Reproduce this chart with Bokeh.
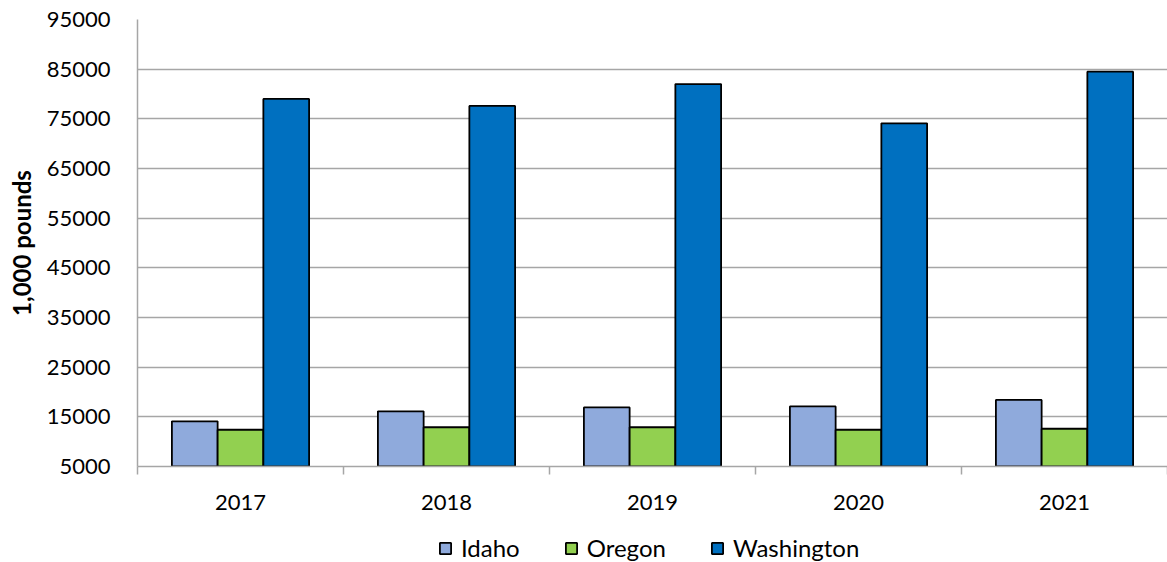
import numpy as np
from bokeh.plotting import figure
from bokeh.layouts import column
from bokeh.models import Range1d, FixedTicker, Legend, LegendItem, ColumnDataSource
from bokeh.embed import file_html
from bokeh.resources import INLINE

years = ["2017", "2018", "2019", "2020", "2021"]
idaho = [14100, 16100, 16900, 17100, 18400]
oregon = [12400, 12900, 12900, 12400, 12600]
washington = [79000, 77600, 82000, 74100, 84500]
y_ticks = [5000, 15000, 25000, 35000, 45000, 55000, 65000, 75000, 85000, 95000]

series_names = ["Idaho", "Oregon", "Washington"]
series_values = [idaho, oregon, washington]
series_colors = ["#8FAADC", "#92D050", "#0070C0"]

FONT = "Lato"
GRID = "#A6A6A6"

p = figure(width=1167, height=522, output_backend="svg", toolbar_location=None,
           x_range=Range1d(0, len(years)), y_range=Range1d(y_ticks[0], y_ticks[-1]),
           min_border_left=137, min_border_right=0, min_border_top=19, min_border_bottom=56)
p.outline_line_color = None
p.background_fill_color = "white"
p.border_fill_color = "white"

bar_w = 0.222
offsets = [-bar_w, 0.0, bar_w]
centers = np.arange(len(years)) + 0.5

for name, vals, col, off in zip(series_names, series_values, series_colors, offsets):
    src = ColumnDataSource(dict(x=centers + off, top=vals))
    p.vbar(x="x", top="top", bottom=y_ticks[0], width=bar_w, source=src,
           fill_color=col, line_color="black", line_width=1.8)

# y axis
p.yaxis.ticker = FixedTicker(ticks=y_ticks)
p.yaxis.major_tick_line_color = None
p.yaxis.minor_tick_line_color = None
p.yaxis.axis_line_color = GRID
p.yaxis.axis_line_width = 1.5
p.yaxis.major_label_text_font = FONT
p.yaxis.major_label_text_font_size = "22px"
p.yaxis.major_label_text_color = "black"
p.yaxis.major_label_standoff = 21
p.yaxis.axis_label = "1,000 pounds"
p.yaxis.axis_label_text_font = FONT
p.yaxis.axis_label_text_font_style = "bold"
p.yaxis.axis_label_text_font_size = "24px"
p.yaxis.axis_label_text_color = "black"
p.yaxis.axis_label_standoff = 8

# x axis with boundary ticks
p.xaxis.ticker = FixedTicker(ticks=list(centers), minor_ticks=list(range(len(years) + 1)))
p.xaxis.major_label_overrides = {float(c): y for c, y in zip(centers, years)}
p.xaxis.major_tick_line_color = None
p.xaxis.minor_tick_line_color = GRID
p.xaxis.minor_tick_line_width = 1.5
p.xaxis.minor_tick_out = 8
p.xaxis.minor_tick_in = 0
p.xaxis.axis_line_color = GRID
p.xaxis.axis_line_width = 1.5
p.xaxis.major_label_text_font = FONT
p.xaxis.major_label_text_font_size = "22px"
p.xaxis.major_label_text_color = "black"
p.xaxis.major_label_standoff = 20

p.xgrid.grid_line_color = None
p.ygrid.ticker = FixedTicker(ticks=y_ticks)
p.ygrid.grid_line_color = GRID
p.ygrid.grid_line_width = 1.5

# legend strip below the chart (frame aligned with the chart's frame)
lg = figure(width=1167, height=40, output_backend="svg", toolbar_location=None,
            x_range=Range1d(0, 1), y_range=Range1d(0, 1),
            min_border_left=137, min_border_right=0, min_border_top=0, min_border_bottom=0)
lg.axis.visible = False
lg.grid.visible = False
lg.outline_line_color = None
items = []
for name, col in zip(series_names, series_colors):
    r = lg.vbar(x=[np.nan], top=[np.nan], width=0.1, fill_color=col,
                line_color="black", line_width=1.8)
    items.append(LegendItem(label=name, renderers=[r]))
legend = Legend(items=items, orientation="horizontal", location=(301, 0),
                glyph_width=14, glyph_height=14, label_standoff=9, spacing=44,
                label_text_font=FONT, label_text_font_size="24px",
                label_text_color="black", border_line_color=None,
                background_fill_alpha=0, padding=0, margin=0)
lg.add_layout(legend, "center")

layout = column(p, lg, spacing=0)
open("out.html", "w").write(file_html(layout, INLINE))
